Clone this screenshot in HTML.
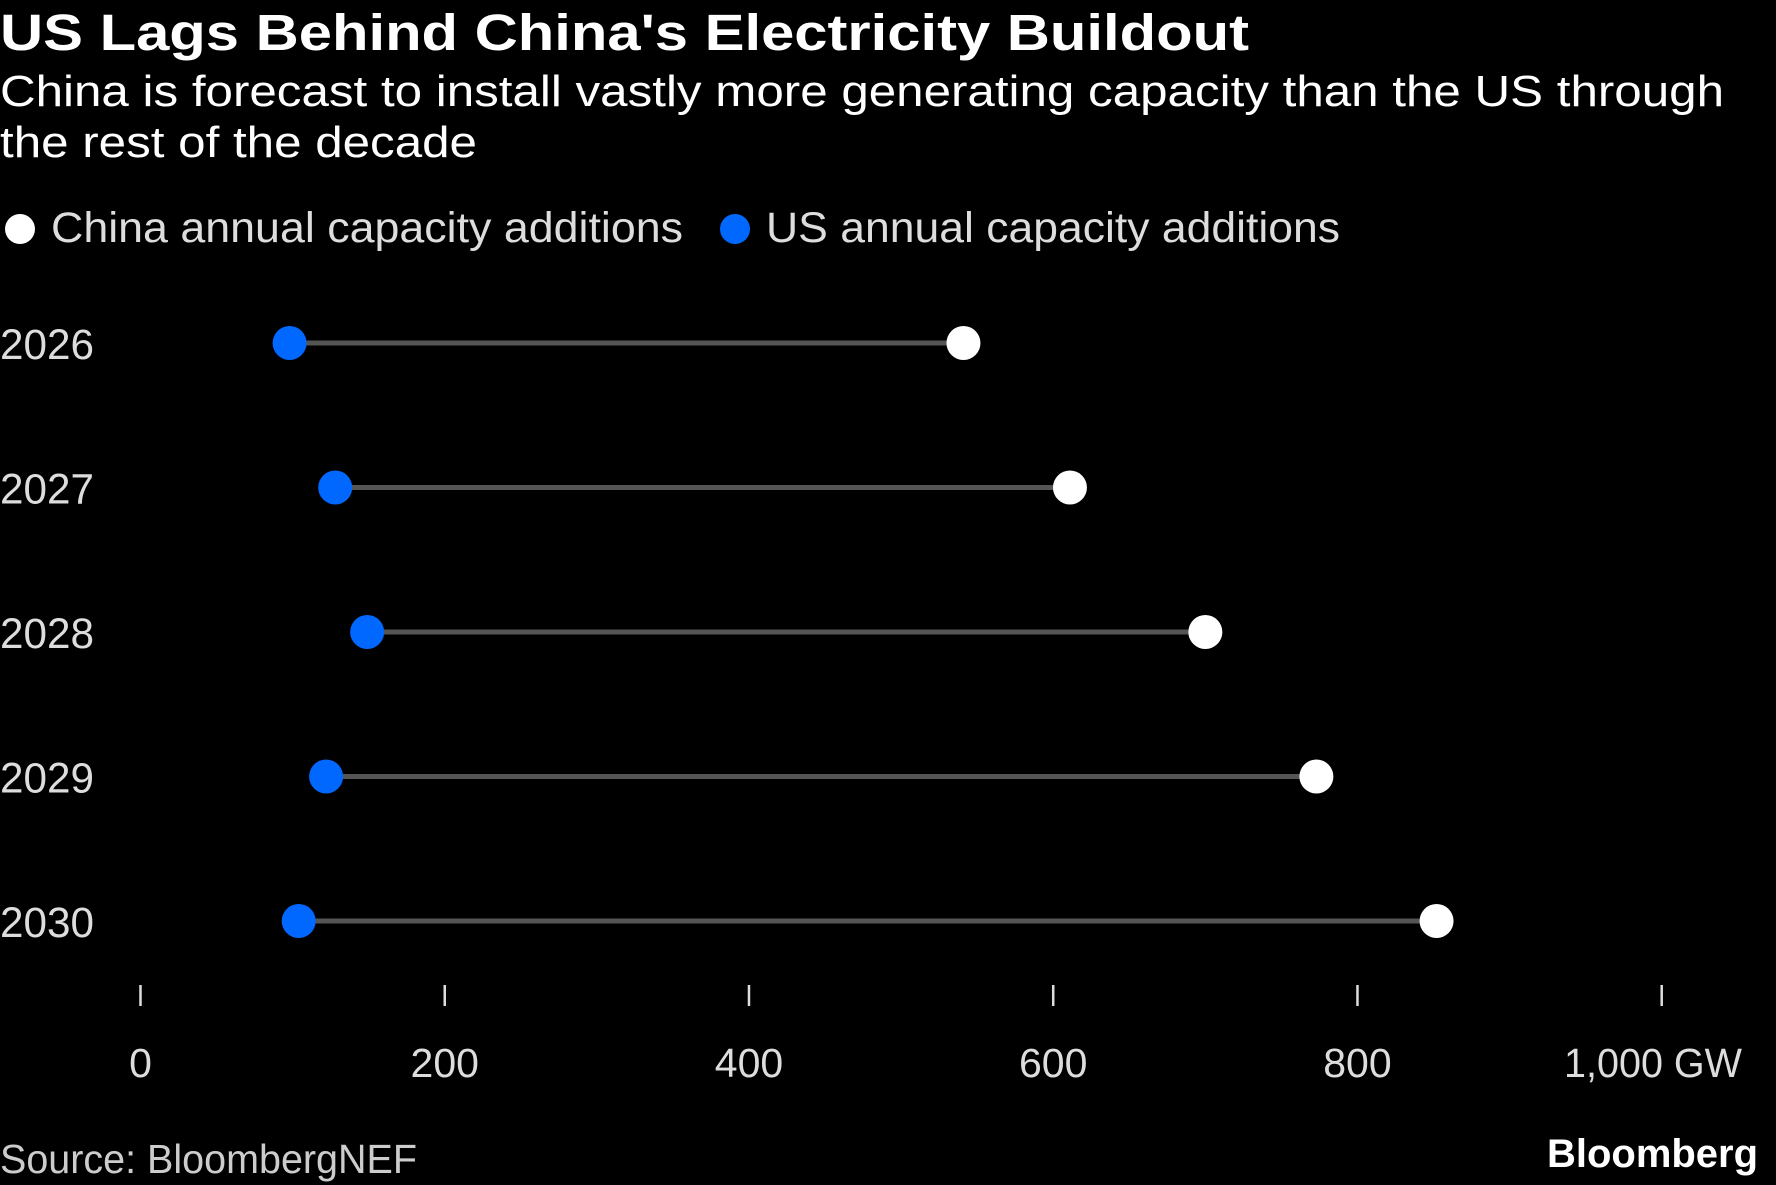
<!DOCTYPE html>
<html><head><meta charset="utf-8"><style>
html,body{margin:0;padding:0;background:#000;}
svg{display:block;}
text{font-family:"Liberation Sans",sans-serif;}
</style></head><body>
<svg id="chart" width="1776" height="1185" viewBox="0 0 1776 1185" xmlns="http://www.w3.org/2000/svg">
<rect width="1776" height="1185" fill="#000"/>
<text x="0" y="50" font-size="51" font-weight="bold" fill="#fff" textLength="1249" lengthAdjust="spacingAndGlyphs">US Lags Behind China's Electricity Buildout</text>
<text x="0" y="106" font-size="44" fill="#fff" textLength="1724" lengthAdjust="spacingAndGlyphs">China is forecast to install vastly more generating capacity than the US through</text>
<text x="0" y="157" font-size="44" fill="#fff" textLength="477" lengthAdjust="spacingAndGlyphs">the rest of the decade</text>
<g>
<circle cx="20" cy="229" r="15" fill="#fff"/>
<text x="51" y="242" font-size="43" fill="#ddd" textLength="632" lengthAdjust="spacingAndGlyphs">China annual capacity additions</text>
<circle cx="735" cy="229" r="15" fill="#0068ff"/>
<text x="766" y="242" font-size="43" fill="#ddd" textLength="574" lengthAdjust="spacingAndGlyphs">US annual capacity additions</text>
</g>
<g id="plot"></g>
<text x="0" y="1173" font-size="41" fill="#ccc" textLength="417" lengthAdjust="spacingAndGlyphs">Source: BloombergNEF</text>
<text x="1547" y="1167" font-size="40" font-weight="bold" fill="#fff" textLength="211" lengthAdjust="spacingAndGlyphs">Bloomberg</text>
</svg>
<script>
const years = ["2026","2027","2028","2029","2030"];
const usValues = [98,128,149,122,104];
const chinaValues = [541,611,700,773,852];
const tickValues = [0,200,400,600,800,1000];
const tickLabels = ["0","200","400","600","800","1,000 GW"];

const NS="http://www.w3.org/2000/svg";
const plot=document.getElementById('plot');
const x=v=>140.5+v*(1661.7-140.5)/1000;
const y=i=>343+i*144.5;
function mk(tag,attrs){const e=document.createElementNS(NS,tag);for(const k in attrs)e.setAttribute(k,attrs[k]);plot.appendChild(e);return e;}

years.forEach((yr,i)=>{
  const t=mk('text',{x:0,y:y(i)+16,'font-size':43,fill:'#ddd',textLength:94,lengthAdjust:'spacingAndGlyphs'});
  t.textContent=yr;
  
  
  const l=mk('line',{x1:x(usValues[i]),x2:x(chinaValues[i]),y1:y(i),y2:y(i),stroke:'#555','stroke-width':5});
  
  
  const u=mk('circle',{cx:x(usValues[i]),cy:y(i),r:17,fill:'#0068ff'});
  
  
  const c=mk('circle',{cx:x(chinaValues[i]),cy:y(i),r:17,fill:'#fff'});
  
  
});
tickValues.forEach((v,i)=>{
  const tk=mk('line',{x1:x(v),x2:x(v),y1:985,y2:1006,stroke:'#ddd','stroke-width':2.5});
  
  
  const last=i===tickValues.length-1;
  const t=mk('text',{x:last?1564:x(v),y:1077,'font-size':41,fill:'#ddd','text-anchor':last?'start':'middle'});
  if(last){t.setAttribute('textLength',178);t.setAttribute('lengthAdjust','spacingAndGlyphs');}
  t.textContent=tickLabels[i];
  
  
});
</script>
</body></html>
